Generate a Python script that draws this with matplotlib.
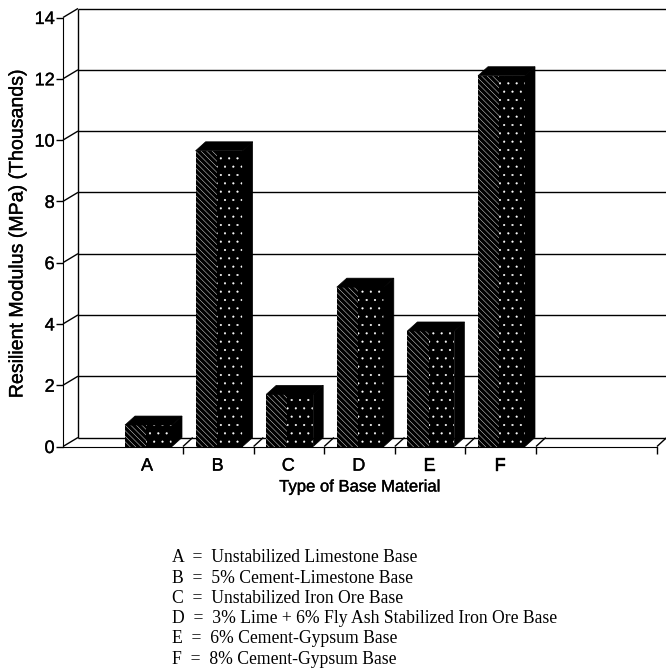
import matplotlib
matplotlib.use('Agg')
import matplotlib.pyplot as plt
import matplotlib.patheffects as pe

categories = ['A', 'B', 'C', 'D', 'E', 'F']
modulus = [0.7, 9.65, 1.7, 5.2, 3.77, 12.1]
y_ticks = [0, 2, 4, 6, 8, 10, 12, 14]
legend_lines = [
    'A  =  Unstabilized Limestone Base',
    'B  =  5% Cement-Limestone Base',
    'C  =  Unstabilized Iron Ore Base',
    'D  =  3% Lime + 6% Fly Ash Stabilized Iron Ore Base',
    'E  =  6% Cement-Gypsum Base',
    'F  =  8% Cement-Gypsum Base',
]

W, H = 666, 669
plt.rcParams['font.family'] = ['Liberation Sans', 'DejaVu Sans']
plt.rcParams['hatch.linewidth'] = 0.3
heavy = [pe.withStroke(linewidth=0.25, foreground='black')]

fig = plt.figure(figsize=(W / 100, H / 100), dpi=100)
ax = fig.add_axes([63 / W, (H - 446.5) / H, 594 / W, 429 / H])

# one category = 70.6 px, one unit = 30.65 px
px_x = 1 / 70.6
px_y = 1 / 30.65
ax.set_xlim(-87 * px_x, 507 * px_x)
ax.set_ylim(0, 14)

wall_dx, wall_dy = 15 * px_x, 9 * px_y
bar_dx, bar_dy = 10 * px_x, 9 * px_y
bar_w = 47 * px_x
x_right = 507 * px_x
x_left = -87 * px_x

line = dict(color='black', lw=1.0, clip_on=False, solid_capstyle='butt')

# back wall and gridlines
ax.plot([x_left + wall_dx] * 2, [wall_dy, 14 + wall_dy], zorder=1, **line)
for v in y_ticks:
    ax.plot([x_left + wall_dx, x_right + 9 * px_x], [v + wall_dy] * 2, zorder=1, **line)
    ax.plot([x_left, x_left + wall_dx], [v, v + wall_dy], zorder=1, **line)

# floor
edge_ticks = [i + 33 * px_x for i in range(len(categories))] + [x_right]
for t in edge_ticks:
    ax.plot([t, t + wall_dx * 0.65], [0, wall_dy], zorder=1, **line)

# bars: hatched on the left, only specks on the right
for i, v in enumerate(modulus):
    left = i - bar_w / 2 - 1.5 * px_x
    right = left + bar_w
    ax.bar(left, v, width=bar_w * 0.45, align='edge', facecolor='black',
           edgecolor='white', hatch='\\\\\\\\\\\\', linewidth=0, zorder=3)
    ax.bar(left + bar_w * 0.45, v, width=bar_w * 0.55, align='edge', facecolor='black',
           edgecolor='white', hatch='..', linewidth=0, zorder=3)
    ax.fill([left, left + bar_dx, right + bar_dx, right],
            [v, v + bar_dy, v + bar_dy, v], color='black', lw=0.5, zorder=3, clip_on=False)
    ax.fill([right, right + bar_dx, right + bar_dx, right],
            [0, bar_dy, v + bar_dy, v], color='black', lw=0.5, zorder=3, clip_on=False)

for s in ['top', 'right']:
    ax.spines[s].set_visible(False)
ax.patch.set_alpha(0)

ax.set_yticks(y_ticks)
ax.tick_params(axis='y', length=5, width=1, labelsize=13, pad=1)
ax.set_xticks(edge_ticks)
ax.set_xticklabels([])
ax.tick_params(axis='x', which='major', length=5, width=1)
ax.set_xticks([i - 3 * px_x for i in range(len(categories))], minor=True)
ax.set_xticklabels(categories, minor=True, fontsize=13)
ax.tick_params(axis='x', which='minor', length=0, pad=8)
for lab in ax.get_yticklabels() + ax.get_xticklabels(minor=True):
    lab.set_path_effects(heavy)

fig.text(17 / W, 1 - 232.5 / H, 'Resilient Modulus (MPa) (Thousands)', rotation=90,
         ha='center', va='center', fontsize=14.1, path_effects=heavy)
fig.text(360 / W, 1 - 487 / H, 'Type of Base Material', ha='center', va='center',
         fontsize=12, path_effects=heavy)

for i, txt in enumerate(legend_lines):
    fig.text(172 / W, 1 - (558 + i * 20.2) / H, txt, ha='left', va='center', fontsize=12.7,
             family=['Liberation Serif', 'DejaVu Serif'])

fig.savefig('out.png', dpi=100)
